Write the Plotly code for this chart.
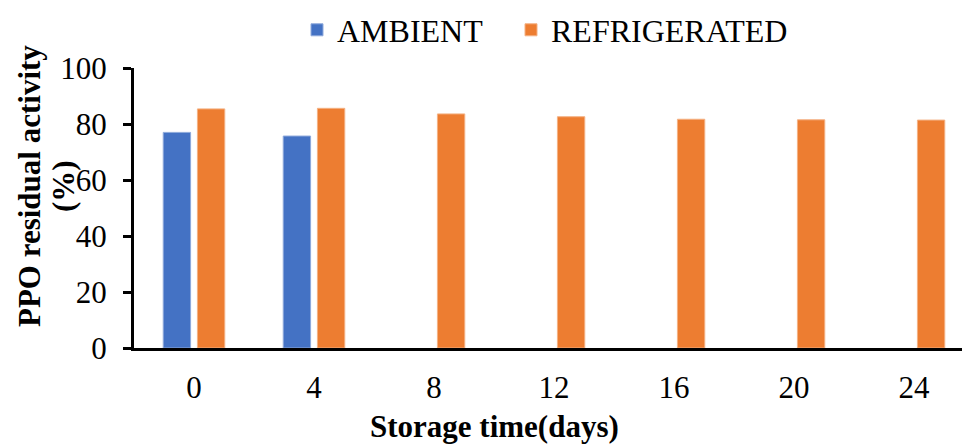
import plotly.graph_objects as go

# Storage time (days) and PPO residual activity (%)
days = ["0", "4", "8", "12", "16", "20", "24"]
ambient = [77.0, 75.7, None, None, None, None, None]
refrigerated = [85.4, 85.6, 83.6, 82.6, 81.7, 81.5, 81.4]
y_ticks = [0, 20, 40, 60, 80, 100]

SERIF = "Liberation Serif"
L, W, T, H = 134, 828, 68, 280  # plot area in pixels


def px_x(p):
    return (p - L) / W


def px_y(p):
    return (T + H - p) / H


fig = go.Figure()
fig.add_trace(go.Bar(
    x=days, y=ambient, name="AMBIENT", legend="legend",
    marker=dict(color="#4472C4", line=dict(color="#8FAADC", width=1)),
))
fig.add_trace(go.Bar(
    x=days, y=refrigerated, name="REFRIGERATED", legend="legend2",
    marker=dict(color="#ED7D31", line=dict(color="#F4B183", width=1)),
))

legend_style = dict(
    orientation="h", xanchor="left", yanchor="middle", y=px_y(30),
    font=dict(family=SERIF, size=32, color="black"),
    itemwidth=30, bgcolor="rgba(0,0,0,0)",
)

fig.update_layout(
    width=962, height=446,
    margin=dict(l=L, r=962 - L - W, t=T, b=446 - T - H),
    paper_bgcolor="white", plot_bgcolor="white",
    barmode="group", bargap=0.43, bargroupgap=0.2,
    font=dict(family=SERIF, size=31, color="black"),
    showlegend=True,
    legend=dict(x=px_x(297), **legend_style),
    legend2=dict(x=px_x(511), **legend_style),
    xaxis=dict(
        type="category", range=[-0.5, 6.4],
        showline=True, linecolor="black", linewidth=3,
        ticks="", showgrid=False, zeroline=False,
        tickfont=dict(family=SERIF, size=31, color="black"),
        ticklabelstandoff=10,
    ),
    yaxis=dict(
        range=[0, 100], tickvals=y_ticks,
        showline=True, linecolor="black", linewidth=3,
        ticks="outside", ticklen=8, tickwidth=3, tickcolor="black",
        showgrid=False, zeroline=False,
        tickfont=dict(family=SERIF, size=31, color="black"),
        ticklabelstandoff=10,
    ),
    annotations=[
        dict(
            text="<b>Storage time(days)</b>", xref="paper", yref="paper",
            x=px_x(494), y=px_y(426),
            xanchor="center", yanchor="middle", showarrow=False,
            font=dict(family=SERIF, size=31, color="black"),
        ),
        dict(
            text="<b>PPO residual activity</b>", xref="paper", yref="paper",
            x=px_x(29), y=px_y(186),
            xanchor="center", yanchor="middle", showarrow=False, textangle=-90,
            font=dict(family=SERIF, size=31, color="black"),
        ),
        dict(
            text="<b>(%)</b>", xref="paper", yref="paper",
            x=px_x(63), y=px_y(186),
            xanchor="center", yanchor="middle", showarrow=False, textangle=-90,
            font=dict(family=SERIF, size=31, color="black"),
        ),
    ],
)

fig.write_html("out.html")
